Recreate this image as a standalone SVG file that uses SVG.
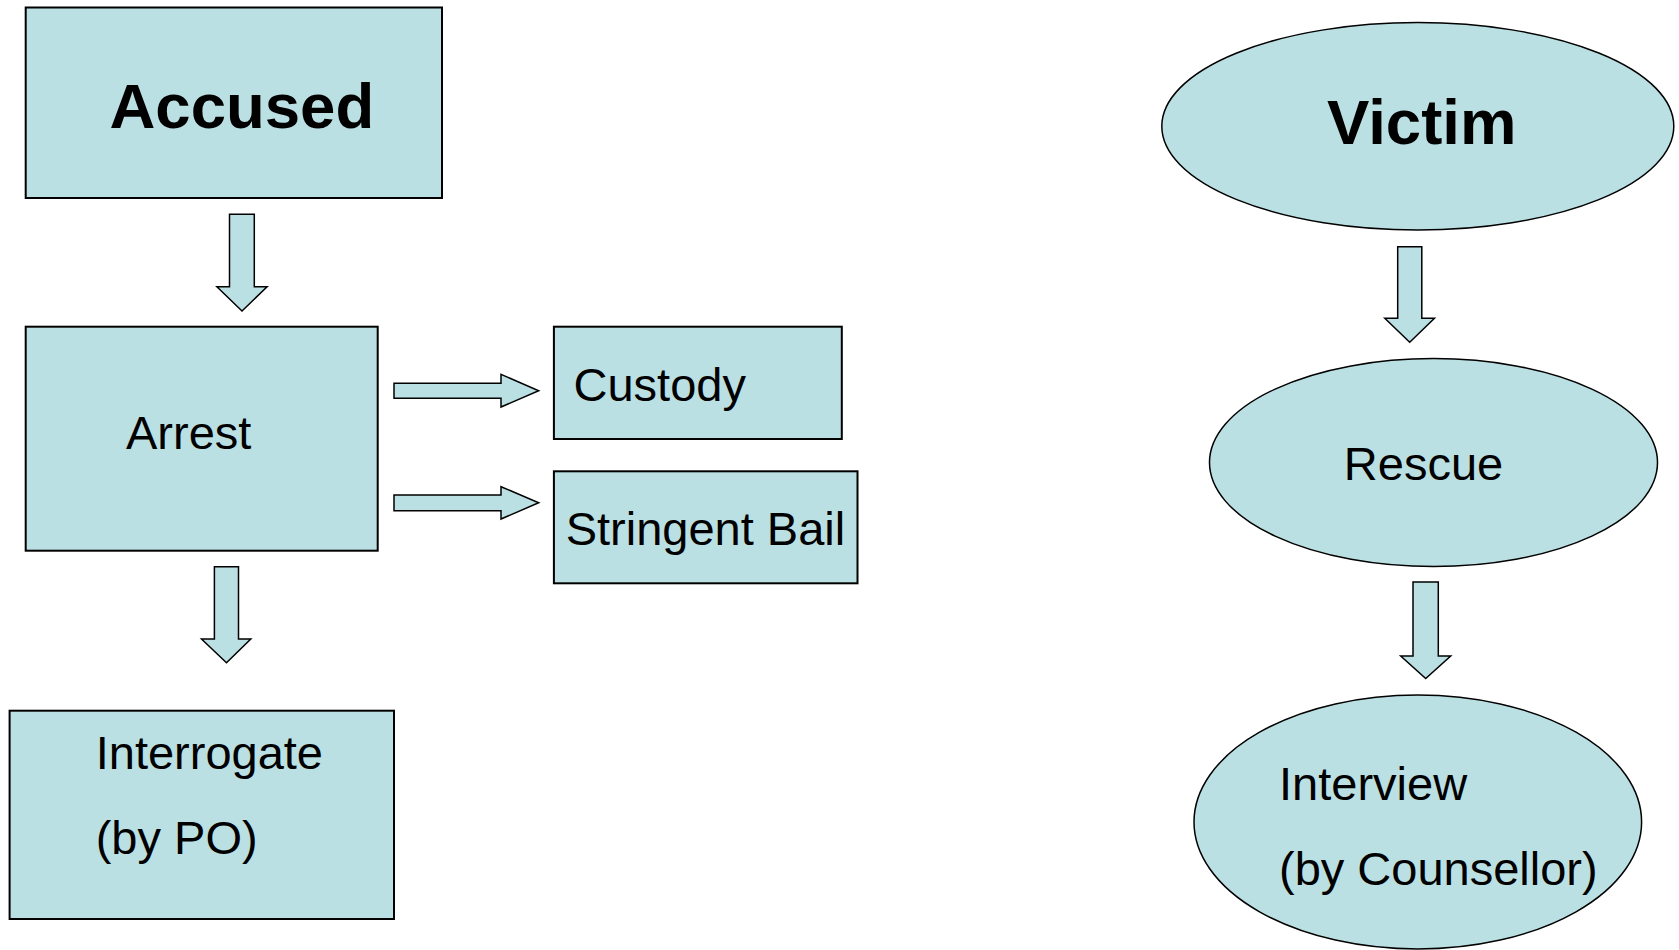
<svg xmlns="http://www.w3.org/2000/svg" width="1679" height="950" viewBox="0 0 1679 950">
<style>
.box{fill:#BBE0E3;stroke:#000;stroke-width:2}
.ell{fill:#BBE0E3;stroke:#000;stroke-width:1.5}
.arr{fill:#BBE0E3;stroke:#000;stroke-width:1.5;stroke-linejoin:miter}
.t{font-family:"Liberation Sans",Arial,sans-serif;font-size:47px;fill:#000}
.tb{font-family:"Liberation Sans",Arial,sans-serif;font-size:63.5px;font-weight:bold;fill:#000}
</style>
<rect width="1679" height="950" fill="#fff"/>
<g id="accused"><rect class="box" x="25.7" y="7.5" width="416.3" height="190.5"/><text class="tb" x="109.5" y="128">Accused</text></g>
<g id="arrest"><rect class="box" x="25.7" y="326.7" width="352" height="224"/><text class="t" x="126" y="449">Arrest</text></g>
<g id="custody"><rect class="box" x="553.9" y="326.7" width="287.9" height="112.3"/><text class="t" x="573.5" y="401">Custody</text></g>
<g id="bail"><rect class="box" x="553.9" y="471.3" width="303.6" height="112"/><text class="t" x="565.7" y="545">Stringent Bail</text></g>
<g id="interrogate"><rect class="box" x="9.6" y="710.7" width="384.4" height="208.3"/><text class="t" x="95.7" y="768.5">Interrogate</text><text class="t" x="95.7" y="853.5">(by PO)</text></g>
<g id="victim"><ellipse class="ell" cx="1417.8" cy="126.3" rx="256" ry="103.7"/><text class="tb" x="1327" y="143.5">Victim</text></g>
<g id="rescue"><ellipse class="ell" cx="1433.5" cy="462.6" rx="224" ry="104"/><text class="t" x="1343.8" y="480">Rescue</text></g>
<g id="interview"><ellipse class="ell" cx="1417.8" cy="822" rx="223.8" ry="127"/><text class="t" x="1279" y="800">Interview</text><text class="t" x="1279" y="885">(by Counsellor)</text></g>
<g id="connectors">
<polygon class="arr" points="229.5,214.3 254.3,214.3 254.3,286.7 267.1,286.7 242,311 216.9,286.7 229.5,286.7"/>
<polygon class="arr" points="214.4,566.7 238.5,566.7 238.5,639 250.8,639 226.5,662.7 201.5,639 214.4,639"/>
<polygon class="arr" points="394,383.3 501,383.3 501,374.3 538.7,390.8 501,407 501,398.3 394,398.3"/>
<polygon class="arr" points="394,495 501,495 501,486.7 538.7,502.8 501,519 501,510.7 394,510.7"/>
<polygon class="arr" points="1397.7,246.7 1421.8,246.7 1421.8,318.3 1434.5,318.3 1409.7,342.3 1384.8,318.3 1397.7,318.3"/>
<polygon class="arr" points="1413,582 1438.3,582 1438.3,656 1450.7,656 1425.7,678.5 1400.7,656 1413,656"/>
</g>
</svg>
